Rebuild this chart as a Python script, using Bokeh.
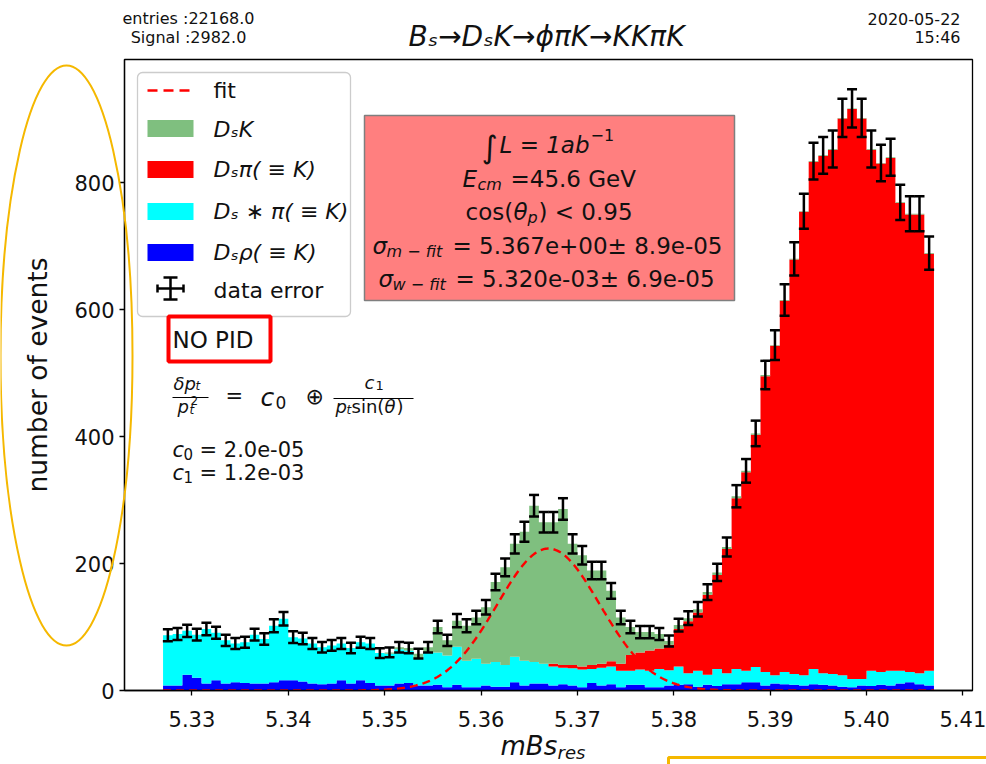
import numpy as np
from bokeh.plotting import figure
from bokeh.models import (Range1d, FixedTicker, PrintfTickFormatter, Label, BoxAnnotation,
                          Arrow, Whisker, TeeHead, ColumnDataSource, GridBox)
from bokeh.embed import file_html
from bokeh.resources import INLINE

# ---- binning of the reconstructed Bs mass (GeV) ----
X_MIN, X_MAX, N_BINS = 5.327, 5.407, 80

# ---- stacked MC components, events per bin (bottom to top of the stack) ----
ds_rho = [8, 8, 25, 20, 11, 16, 11, 13, 12, 11, 11, 13, 16, 16, 14, 11, 10, 11, 16, 11,
          16, 12, 8, 8, 11, 12, 8,
          8, 9, 5, 9, 5, 5, 8, 6, 6, 13, 8, 11, 11, 8, 10, 8, 5, 12, 8, 10,
          5, 9, 9, 5, 5, 8, 9,
          10, 6, 9, 7, 10, 10, 13, 13, 8, 11, 10, 9, 8, 10, 9, 8, 6, 5, 8, 7,
          9, 8, 11, 13, 10, 8]
dsstar_pi = [79, 81, 69, 68, 86, 75, 68, 61, 64, 77, 70, 89, 97, 68, 68, 63, 58, 60, 58, 56,
             60, 62, 51, 50, 54, 51, 42,
             52, 51, 50, 60, 42, 45, 34, 39, 34, 40, 39, 34, 31, 30, 26, 27, 28, 22, 28, 28,
             26, 22, 24, 26, 29, 24, 29,
             17, 25, 16, 27, 17, 24, 18, 24, 21, 13, 19, 17, 16, 24, 18, 18, 18, 13, 10, 24,
             20, 23, 20, 16, 17, 23]
ds_pi = [0, 0, 0, 0, 0, 0, 0, 0, 0, 0, 0, 0, 0, 0, 0, 0, 0, 0, 0, 0,
         0, 0, 0, 0, 0, 0, 0, 0, 0, 0, 0, 0, 0, 0, 0, 0, 0, 0, 0, 0,
         4, 4, 5, 5, 6, 6, 8, 11, 25, 27, 32, 32, 40, 59,
         82, 92, 126, 148, 196, 269, 313, 366, 466, 519, 585, 653, 730, 799, 815, 826,
         877, 898, 883, 821, 801, 808, 737, 721, 723, 657]
ds_k = [0, 0, 0, 0, 0, 0, 0, 0, 0, 0, 0, 0, 0, 0, 0, 0, 0, 0, 0, 0,
        0, 0, 0, 2, 3, 4, 8,
        8, 40, 24, 41, 55, 65, 89, 126, 154, 178, 203, 246, 223, 223, 246, 191, 175, 149,
        147, 111, 73, 44, 32, 29, 23, 6, 6,
        5, 5, 4, 4, 3, 3, 2, 2, 2,
        1, 1, 1, 1, 1, 1, 1, 1, 1, 1, 1, 1, 1, 1, 1, 1, 1]

# ---- run summary and fit results ----
ENTRIES = 22168.0
SIGNAL = 2982.0
FIT_MEAN, FIT_MEAN_ERR = 5.367, 8.9e-05
FIT_SIGMA, FIT_SIGMA_ERR = 5.320e-03, 6.9e-05
C0, C1 = 2.0e-05, 1.2e-03
RUN_DATE, RUN_TIME = "2020-05-22", "15:46"

x_ticks = [5.33, 5.34, 5.35, 5.36, 5.37, 5.38, 5.39, 5.40, 5.41]
y_ticks = [0, 200, 400, 600, 800]

# ---- canvas / frame geometry (pixels) ----
W, H = 986, 764
FL, FR, FT, FB = 124, 972, 59, 690
TXT_SHIFT = 8.5   # label anchor -> visual centre correction
HILITE = "#f5b800"

p = figure(width=W, height=H, x_range=Range1d(5.323, 5.411), y_range=Range1d(0, 994),
           output_backend="svg", toolbar_location=None,
           min_border_left=FL, min_border_right=W - FR,
           min_border_top=FT, min_border_bottom=H - FB)
p.frame_align = False
p.xgrid.visible = False
p.ygrid.visible = False
p.background_fill_color = "white"
p.border_fill_color = "white"
p.outline_line_color = "black"
p.outline_line_width = 1.3
p.outline_line_alpha = 1.0

# ---- stacked histogram ----
edges = np.linspace(X_MIN, X_MAX, N_BINS + 1)
layers = [(ds_rho, "#0000ff"), (dsstar_pi, "#00ffff"), (ds_pi, "#ff0000"), (ds_k, "#7fbf7f")]
base = np.zeros(N_BINS)
for counts, color in layers:
    top = base + np.asarray(counts, dtype=float)
    p.varea_step(x=edges, y1=np.append(base, base[-1]), y2=np.append(top, top[-1]),
                 step_mode="after", fill_color=color, fill_alpha=1.0)
    base = top
total = base

# ---- gaussian fit of the DsK peak ----
bin_w = edges[1] - edges[0]
amp = SIGNAL * bin_w / (np.sqrt(2 * np.pi) * FIT_SIGMA)
xf = np.linspace(X_MIN, X_MAX, 400)
yf = amp * np.exp(-0.5 * ((xf - FIT_MEAN) / FIT_SIGMA) ** 2)
p.line(xf, yf, line_color="red", line_width=2.4, line_dash="8 5")

# ---- data points with poisson errors ----
centers = 0.5 * (edges[:-1] + edges[1:])
err = np.sqrt(total)
src = ColumnDataSource(dict(x=centers, lo=total - err, hi=total + err))
p.add_layout(Whisker(source=src, base="x", lower="lo", upper="hi", level="annotation",
                     line_color="black", line_width=2.5,
                     lower_head=TeeHead(size=10, line_color="black", line_width=2.5),
                     upper_head=TeeHead(size=10, line_color="black", line_width=2.5)))

# ---- axes ----
p.xaxis.ticker = FixedTicker(ticks=x_ticks, minor_ticks=[])
p.xaxis.formatter = PrintfTickFormatter(format="%.2f")
p.yaxis.ticker = FixedTicker(ticks=y_ticks, minor_ticks=[])
for ax in (p.xaxis[0], p.yaxis[0]):
    ax.major_label_text_font = "DejaVu Sans"
    ax.major_label_text_font_size = "21px"
    ax.major_label_text_color = "#111111"
    ax.major_tick_out = 5
    ax.major_tick_in = 0
    ax.minor_tick_out = 0
    ax.minor_tick_in = 0
    ax.axis_line_color = "black"
    ax.axis_line_width = 1.3
    ax.major_tick_line_color = "black"
    ax.major_tick_line_width = 1.3
p.xaxis.major_label_standoff = 15
p.yaxis.major_label_standoff = 5
p.yaxis.axis_label = "number of events"
p.yaxis.axis_label_text_font = "DejaVu Sans"
p.yaxis.axis_label_text_font_size = "26.5px"
p.yaxis.axis_label_text_font_style = "normal"
p.yaxis.axis_label_text_color = "#111111"
p.yaxis.axis_label_standoff = 18

# ---- transparent sheet over the whole canvas for the page margins ----
ov = figure(width=W, height=H, x_range=Range1d(0, W), y_range=Range1d(H, 0),
            output_backend="svg", toolbar_location=None, min_border=0,
            x_axis_type=None, y_axis_type=None)
ov.frame_align = False
ov.xgrid.visible = False
ov.ygrid.visible = False
ov.outline_line_color = None
ov.background_fill_alpha = 0
ov.border_fill_alpha = 0


# ---- helpers placing annotations by canvas pixel position ----
def sx(x):
    return x - FL


def sy(y):
    return FB - y


def put(x, y, text, size=21, style="normal", align="left", color="#111111", on=None):
    y = y - TXT_SHIFT
    common = dict(text=text, text_font="DejaVu Sans", text_font_size=f"{size}px",
                  text_font_style=style, text_align=align,
                  text_baseline="alphabetic", text_color=color)
    if on is ov:
        ov.add_layout(Label(x=x, y=y, **common))
    else:
        p.add_layout(Label(x=sx(x), y=sy(y), x_units="screen", y_units="screen", **common))


def seg(x0, y0, x1, y1, color="black", width=1.5, dash="solid"):
    p.add_layout(Arrow(x_start=sx(x0), y_start=sy(y0), x_end=sx(x1), y_end=sy(y1),
                       start_units="screen", end_units="screen", start=None, end=None,
                       line_color=color, line_width=width, line_dash=dash))


def box(l, t, r, b, fill=None, fill_alpha=1.0, line="black", lw=1.0, radius=0):
    p.add_layout(BoxAnnotation(left=sx(l), right=sx(r), top=sy(t), bottom=sy(b),
                               left_units="screen", right_units="screen",
                               top_units="screen", bottom_units="screen",
                               fill_color=fill, fill_alpha=fill_alpha if fill else 0,
                               line_color=line, line_width=lw, line_alpha=1.0 if line else 0,
                               border_radius=radius))


# ---- header texts ----
put(188, 26.5, f"entries :{ENTRIES:.1f}", size=16, align="center", on=ov)
put(188, 45.5, f"Signal :{SIGNAL:.1f}", size=16, align="center", on=ov)
put(960, 26.5, RUN_DATE, size=16, align="right", on=ov)
put(960, 45.5, RUN_TIME, size=16, align="right", on=ov)
put(546, 44, "Bₛ→DₛK→ϕπK→KKπK", size=28, style="italic", align="center", on=ov)

# ---- x axis title ----
put(500, 754, "mBs", size=26, style="italic", on=ov)
put(557, 760, "res", size=18, style="italic", on=ov)

# ---- legend ----
box(137, 72, 350, 316, fill="white", fill_alpha=0.8, line="#cccccc", lw=1.3, radius=5)
seg(147, 90, 193, 90, color="red", width=2.5, dash="10 6")
for yc, color in [(128, "#7fbf7f"), (169, "#ff0000"), (211, "#00ffff"), (252, "#0000ff")]:
    box(147, yc - 8.5, 193, yc + 8.5, fill=color, line=None)
seg(170, 277, 170, 299, width=2.5)
seg(163, 277, 177, 277, width=2.5)
seg(163, 299, 177, 299, width=2.5)
seg(157, 288, 183, 288, width=2.5)
seg(157, 284, 157, 292, width=2.5)
seg(183, 284, 183, 292, width=2.5)
put(213, 98, "fit", size=22)
put(213, 137, "DₛK", size=22, style="italic")
put(213, 177, "Dₛπ( ≡ K)", size=22, style="italic")
put(213, 219, "Dₛ ∗ π( ≡ K)", size=22, style="italic")
put(213, 260, "Dₛρ( ≡ K)", size=22, style="italic")
put(213, 298, "data error", size=22)

# ---- run conditions and fit result box ----
box(364, 115, 734, 300, fill="#ff7f7f", line="#7f7f7f", lw=1.5)
put(481, 155, "∫", size=31)
put(499, 153, "L = 1ab", size=23, style="italic")
put(590, 143, "−1", size=16)
put(462, 187, "E", size=23, style="italic")
put(477, 192, "cm", size=16, style="italic")
put(510, 187, "=45.6 GeV", size=23)
put(465, 220, "cos(", size=23)
put(513, 220, "θ", size=23, style="italic")
put(527, 225, "p", size=16, style="italic")
put(538, 220, ") < 0.95", size=23)
put(372, 254, "σ", size=23, style="italic")
put(386, 259, "m − fit", size=16, style="italic")
put(452, 254, f"= {FIT_MEAN:.3e}± {FIT_MEAN_ERR:.1e}", size=23)
put(378, 287, "σ", size=23, style="italic")
put(392, 292, "w − fit", size=16, style="italic")
put(455, 287, f"= {FIT_SIGMA:.3e}± {FIT_SIGMA_ERR:.1e}", size=23)

# ---- PID tag ----
box(168, 316, 270, 361, fill="white", line="red", lw=4)
put(172, 348, "NO PID", size=23)

# ---- momentum resolution parametrisation ----
put(173, 391, "δp", size=18, style="italic")
put(195, 394, "t", size=12, style="italic")
seg(172, 397, 208, 397, width=1.2)
put(177, 414, "p", size=18, style="italic")
put(189, 418, "t", size=12, style="italic")
put(190, 408, "2", size=12)
put(225, 404, "=", size=21)
put(260, 405, "c", size=25, style="italic")
put(275, 410, "0", size=17)
put(305, 404, "⊕", size=22)
put(364, 390, "c", size=18, style="italic")
put(375, 393, "1", size=13)
seg(333, 398, 413, 398, width=1.2)
put(335, 414, "p", size=18, style="italic")
put(346, 418, "t", size=12, style="italic")
put(351, 414, "sin(", size=18)
put(384, 414, "θ", size=18, style="italic")
put(396, 414, ")", size=18)
put(172, 458, "c", size=21, style="italic")
put(183, 462, "0", size=15)
put(199, 458, f"= {C0:.1e}", size=21)
put(172, 481, "c", size=21, style="italic")
put(183, 485, "1", size=15)
put(199, 481, f"= {C1:.1e}", size=21)

# ---- highlight marks around the axis title and below the axis ----
ov.ellipse(x=66, y=355, width=132, height=580, fill_alpha=0, line_color=HILITE, line_width=2)
ov.quad(left=668, right=1000, top=757, bottom=800, fill_alpha=0, line_color=HILITE, line_width=3)

layout = GridBox(children=[(p, 0, 0), (ov, 0, 0)])

open("out.html", "w").write(file_html(layout, INLINE))
